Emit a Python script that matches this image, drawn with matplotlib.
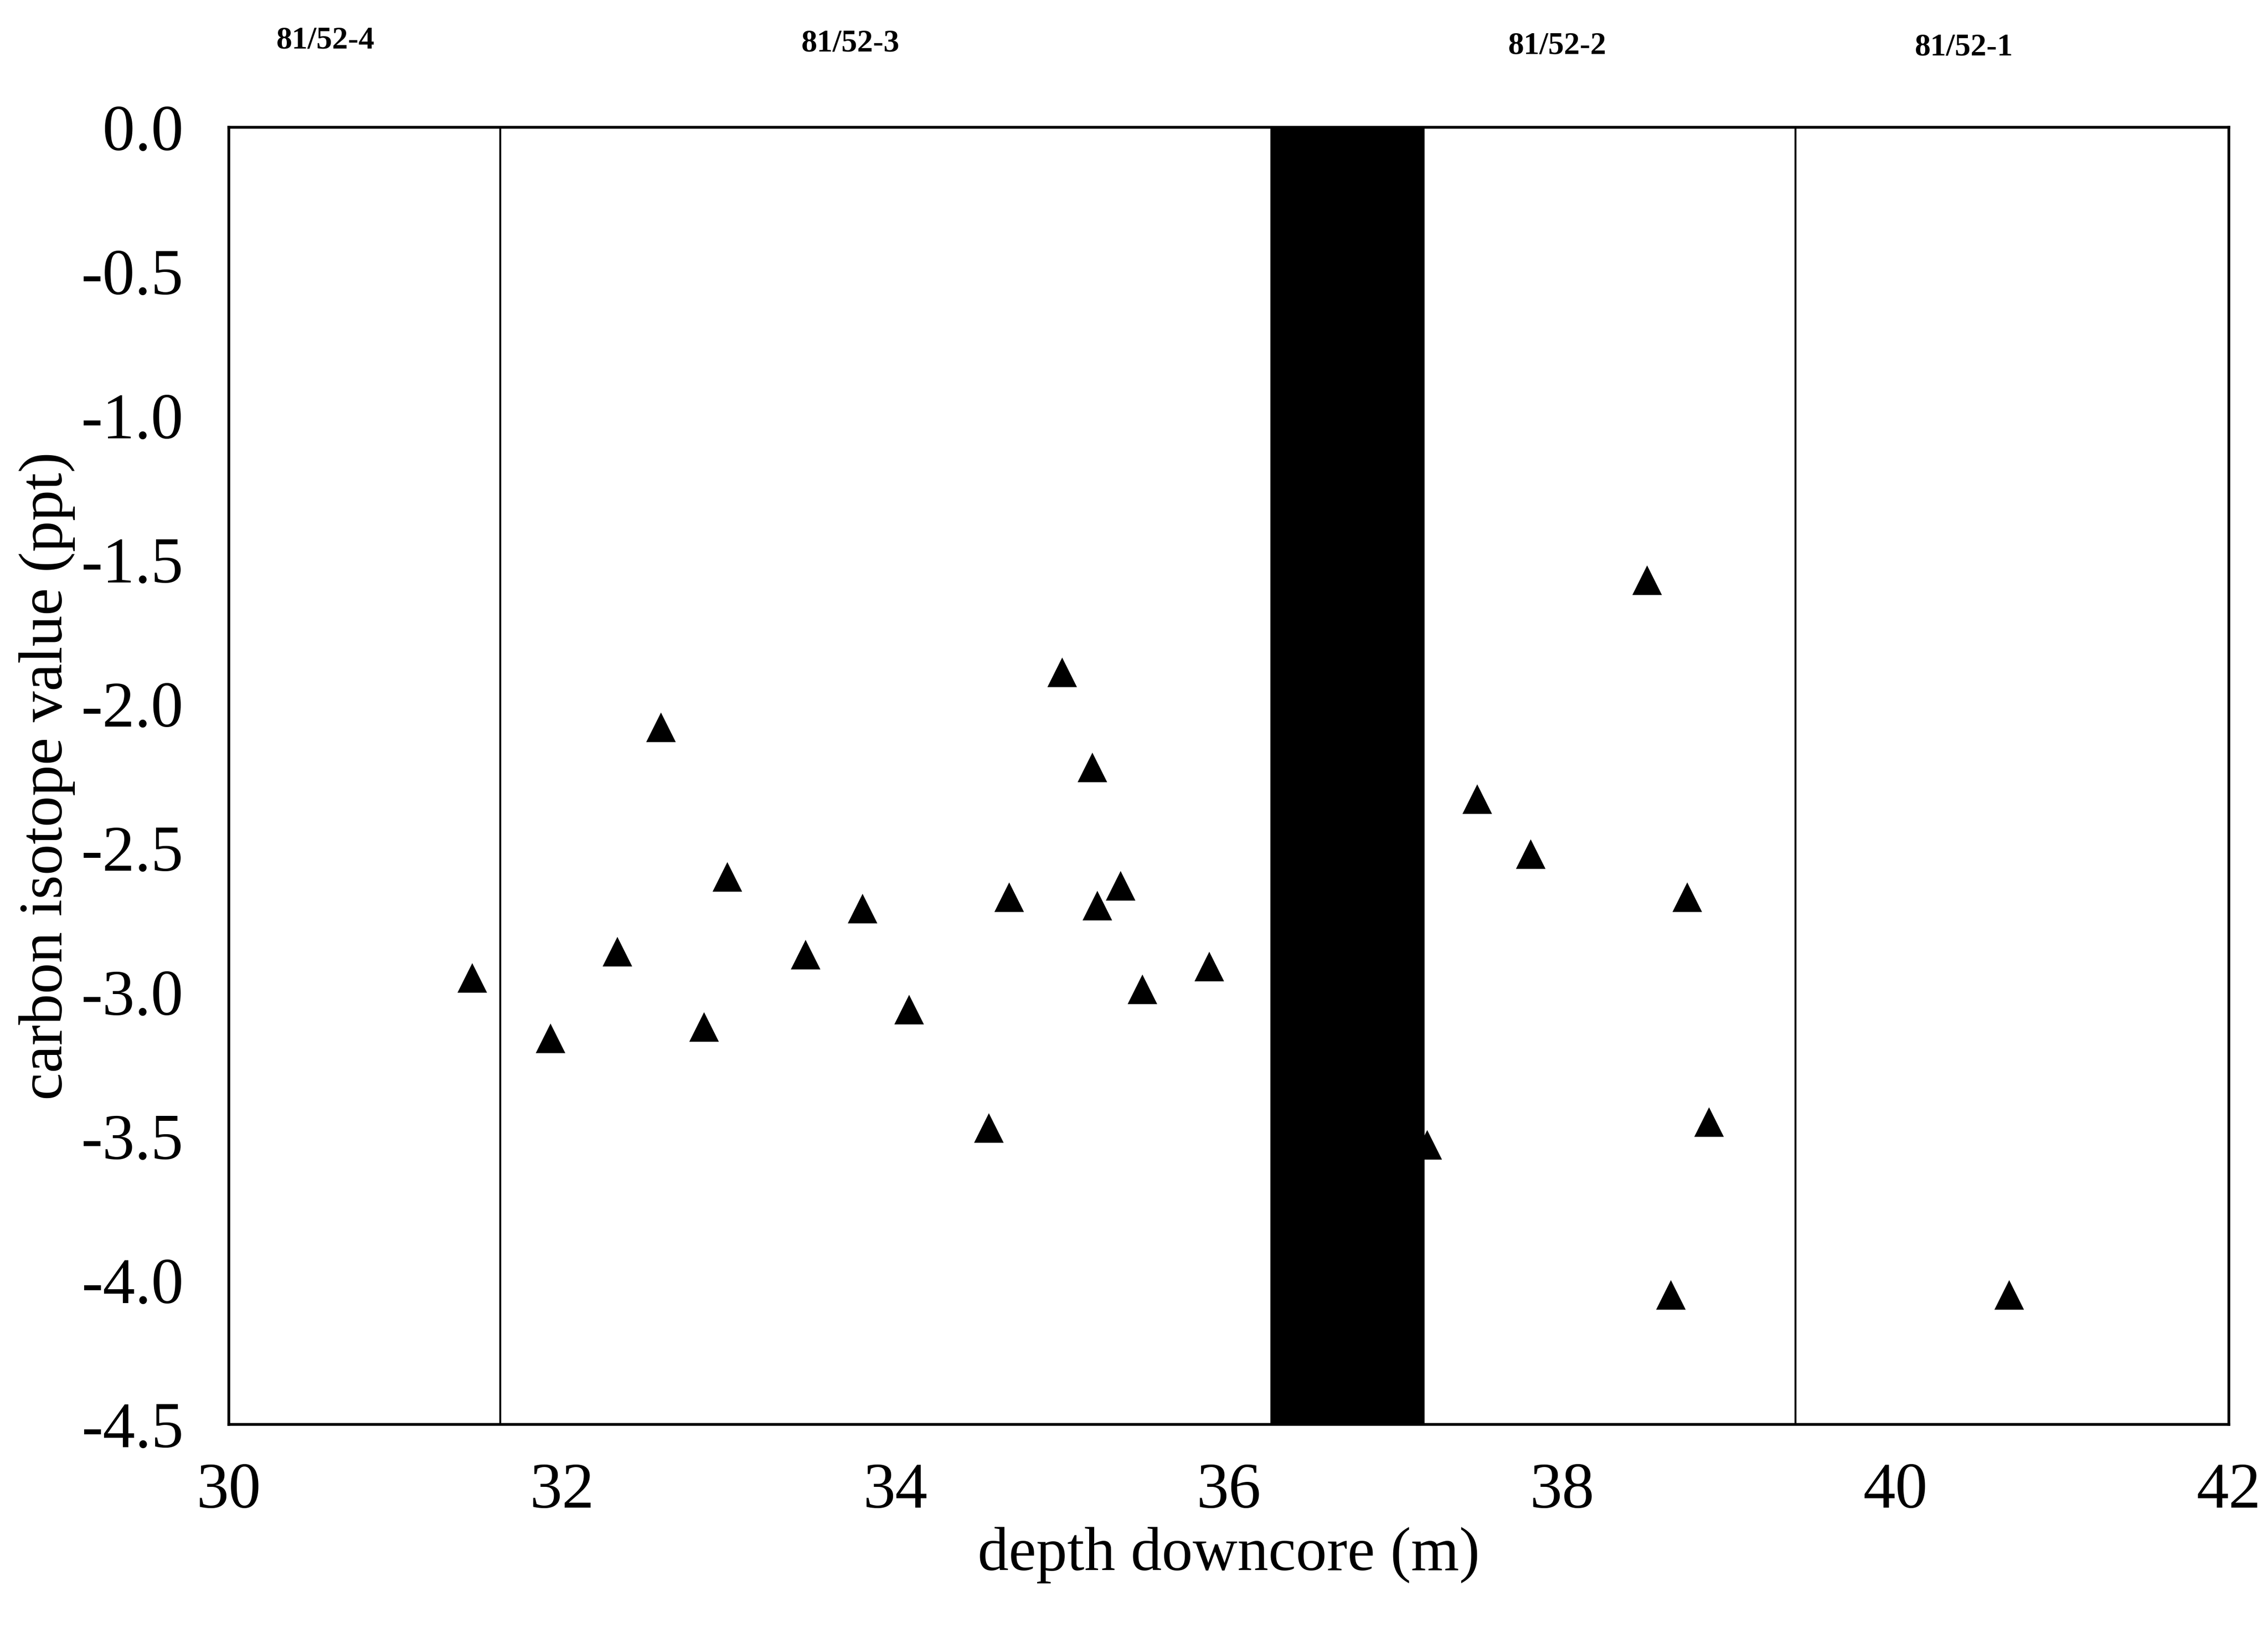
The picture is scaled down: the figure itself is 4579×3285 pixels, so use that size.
import matplotlib
matplotlib.use("Agg")
import matplotlib.pyplot as plt

# data
depth = [31.46, 31.93, 32.33, 32.59, 32.85, 32.99, 33.46, 33.80, 34.08, 34.56,
         34.68, 35.00, 35.18, 35.21, 35.35, 35.48, 35.88, 37.19, 37.49, 37.81,
         38.51, 38.75, 38.65, 38.88, 40.68]
d13c = [-2.95, -3.16, -2.86, -2.08, -3.12, -2.60, -2.87, -2.71, -3.06, -3.47,
        -2.67, -1.89, -2.22, -2.70, -2.63, -2.99, -2.91, -3.53, -2.33, -2.52,
        -1.57, -2.67, -4.05, -3.45, -4.05]
section_bounds = [31.63, 39.40]
gap_start, gap_end = 36.25, 37.17
section_labels = ["81/52-4", "81/52-3", "81/52-2", "81/52-1"]
section_label_x = [30.58, 33.73, 37.97, 40.41]
section_label_y = [0.30, 0.29, 0.28, 0.275]
xticks = [30, 32, 34, 36, 38, 40, 42]
yticks = [0.0, -0.5, -1.0, -1.5, -2.0, -2.5, -3.0, -3.5, -4.0, -4.5]

plt.rcParams['font.family'] = ['Liberation Serif', 'DejaVu Serif']

fig = plt.figure(figsize=(45.79, 32.85), dpi=100)
ax = fig.add_axes([0.1009, 0.1245, 0.8818, 0.7973])

ax.scatter(depth, d13c, marker='^', s=43**2, color='black', zorder=2, linewidths=0)
ax.axvspan(gap_start, gap_end, color='black', zorder=3)
for b in section_bounds:
    ax.axvline(b, color='black', lw=2.8, zorder=1)

ax.set_xlim(30, 42)
ax.set_ylim(-4.5, 0.0)
ax.set_xticks(xticks)
ax.set_xticklabels([str(t) for t in xticks])
ax.set_yticks(yticks)
ax.set_yticklabels([f"{t:.1f}" for t in yticks])
ax.tick_params(length=0, labelsize=94)
ax.tick_params(axis='y', pad=66)
ax.tick_params(axis='x', pad=55)
for s in ax.spines.values():
    s.set_linewidth(4.0)
    s.set_color('black')

ax.set_xlabel("depth downcore (m)", fontsize=90, labelpad=8)
ax.set_ylabel("carbon isotope value (ppt)", fontsize=90, labelpad=8)

for lab, x, y in zip(section_labels, section_label_x, section_label_y):
    ax.text(x, y, lab, fontsize=46, fontweight='bold', ha='center', va='center',
            clip_on=False)

fig.savefig("out.png", dpi=100, facecolor='white')
